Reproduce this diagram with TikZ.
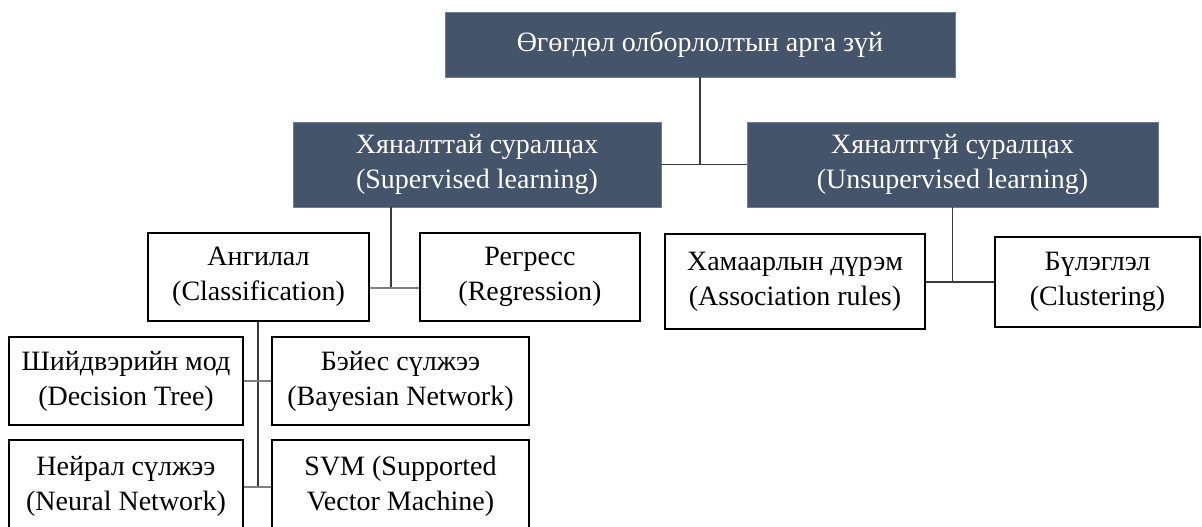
\documentclass[tikz,border=0pt]{standalone}
\usepackage{fontspec}
\setmainfont{Liberation Serif}
\definecolor{slate}{HTML}{44546A}
\definecolor{slateedge}{HTML}{6E7D92}
\definecolor{linkdark}{HTML}{3A3A3A}
\definecolor{linkgray}{HTML}{7F7F7F}
\begin{document}
\begin{tikzpicture}[x=1pt,y=-1pt,
  every node/.style={align=center,inner sep=0pt,font=\fontsize{28}{35}\selectfont},
  headbox/.style={fill=slate,draw=slateedge,line width=0.8pt,text=white},
  leafbox/.style={fill=white,draw=black,line width=1.3pt},
  mainlink/.style={draw=linkdark,line width=1.8pt},
  sublink/.style={draw=linkgray,line width=1.3pt}]
\useasboundingbox (0,0) rectangle (1202,527);

% top level
\node[headbox,minimum width=510pt,minimum height=65pt] (root) at (700,44.5)
  {Өгөгдөл олборлолтын арга зүй};

% learning types
\node[headbox,minimum width=368pt,minimum height=85pt] (sup) at (477,164.5)
  {Хяналттай суралцах\\(Supervised learning)};
\node[headbox,minimum width=411pt,minimum height=85pt] (unsup) at (952.5,164.5)
  {Хяналтгүй суралцах\\(Unsupervised learning)};

% supervised tasks
\node[leafbox,minimum width=221pt,minimum height=88pt] (cls) at (258.5,277)
  {Ангилал\\(Classification)};
\node[leafbox,minimum width=220pt,minimum height=88pt] (reg) at (530,277)
  {Регресс\\(Regression)};

% unsupervised tasks
\node[leafbox,minimum width=260pt,minimum height=95pt] (assoc) at (795,281.5)
  {Хамаарлын дүрэм\\(Association rules)};
\node[leafbox,minimum width=205pt,minimum height=90pt] (clust) at (1097.5,282)
  {Бүлэглэл\\(Clustering)};

% classification methods
\node[leafbox,minimum width=234pt,minimum height=88pt] (dt) at (126,381)
  {Шийдвэрийн мод\\(Decision Tree)};
\node[leafbox,minimum width=257pt,minimum height=88pt] (bn) at (400.5,381)
  {Бэйес сүлжээ\\(Bayesian Network)};
\node[leafbox,minimum width=234pt,minimum height=92pt] (nn) at (126,486)
  {Нейрал сүлжээ\\(Neural Network)};
\node[leafbox,minimum width=257pt,minimum height=92pt] (svm) at (400.5,486)
  {SVM (Supported\\Vector Machine)};

% junction points
\coordinate (j1) at (root.south |- sup.east);
\coordinate (j2) at (391,288);
\coordinate (j3) at (unsup.south |- 0,282);
\coordinate (j4) at (258,381);
\coordinate (j5) at (258,487);

% connectors
\draw[mainlink] (root.south) -- (j1);
\draw[mainlink] (sup.east) -- (unsup.west);

\draw[sublink,draw=linkdark] (sup.south -| j2) -- (j2);
\draw[sublink] (cls.east |- j2) -- (reg.west |- j2);

\draw[mainlink,line width=1.5pt] (unsup.south) -- (j3);
\draw[mainlink,line width=1.5pt] (assoc.east |- j3) -- (clust.west |- j3);

\draw[sublink,draw=linkdark] (cls.south -| j4) -- (j5);
\draw[sublink] (dt.east |- j4) -- (bn.west |- j4);
\draw[sublink] (nn.east |- j5) -- (svm.west |- j5);
\end{tikzpicture}
\end{document}
